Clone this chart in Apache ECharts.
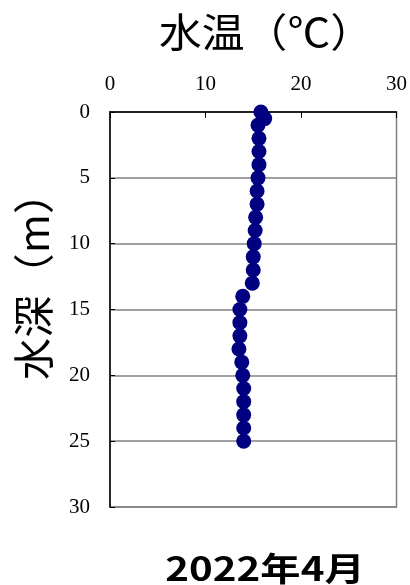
<!DOCTYPE html>
<html>
<head>
<meta charset="utf-8">
<script src="https://cdn.jsdelivr.net/npm/echarts@6/dist/echarts.min.js"></script>
<style>
  html, body { margin: 0; padding: 0; background: #fff; }
  #chart { width: 410px; height: 585px; }
</style>
</head>
<body>
<div id="chart"></div>
<script>
// Water temperature profile (depth vs temperature)
const depths = [0, 0.5, 1, 2, 3, 4, 5, 6, 7, 8, 9, 10, 11, 12, 13, 14, 15, 16, 17, 18, 19, 20, 21, 22, 23, 24, 25];
const temps = [15.8, 16.2, 15.5, 15.6, 15.6, 15.6, 15.5, 15.4, 15.4, 15.25, 15.2, 15.1, 15.0, 15.0, 14.9, 13.9, 13.6, 13.6, 13.6, 13.5, 13.8, 13.9, 14.0, 14.0, 14.0, 14.0, 14.0];
const tempTicks = [0, 10, 20, 30];
const depthTicks = [0, 5, 10, 15, 20, 25, 30];
const xTitle = '水温（℃）';
const yTitle = '水深（m）';
const caption = '2022年4月';

const labelFont = '"Liberation Serif", "DejaVu Serif", serif';
const cjkFont = '"Noto Sans CJK JP", "Noto Sans", sans-serif';

const points = depths.map((d, i) => [temps[i], d]);

const chart = echarts.init(document.getElementById('chart'), null, { renderer: 'canvas' });
chart.setOption({
  animation: false,
  backgroundColor: '#ffffff',
  grid: {
    left: 110, top: 112, right: 13, bottom: 78,
    show: true, borderColor: '#808080', borderWidth: 1.5, backgroundColor: 'transparent'
  },
  graphic: [
    { type: 'text', x: 266, y: 32, scaleX: 1.07,
      style: { text: xTitle, font: 'normal 40px ' + cjkFont, fill: '#000', align: 'center', verticalAlign: 'middle' } },
    { type: 'text', x: 33, y: 276, rotation: Math.PI / 2, scaleX: 1.03,
      style: { text: yTitle, font: 'normal 41px ' + cjkFont, fill: '#000', align: 'center', verticalAlign: 'middle' } },
    { type: 'text', x: 265, y: 568, scaleX: 1.22,
      style: { text: caption, font: 'bold 33px ' + cjkFont, fill: '#000', align: 'center', verticalAlign: 'middle' } }
  ],
  xAxis: {
    type: 'value', position: 'top', min: tempTicks[0], max: tempTicks[tempTicks.length - 1], interval: 10,
    axisLine: { show: true, lineStyle: { color: '#000', width: 1.5 } },
    axisTick: { show: true, inside: true, length: 6, lineStyle: { color: '#000' } },
    axisLabel: { fontFamily: labelFont, fontSize: 21, color: '#000', margin: 17 },
    splitLine: { show: false }
  },
  yAxis: {
    type: 'value', inverse: true, min: depthTicks[0], max: depthTicks[depthTicks.length - 1], interval: 5,
    axisLine: { show: true, lineStyle: { color: '#000', width: 1.5 } },
    axisTick: { show: true, inside: true, length: 5, lineStyle: { color: '#000' } },
    axisLabel: { fontFamily: labelFont, fontSize: 21, color: '#000', margin: 20 },
    splitLine: { show: true, lineStyle: { color: '#808080', width: 1.5 } }
  },
  series: [{
    type: 'scatter',
    data: points,
    symbol: 'circle',
    symbolSize: 15,
    itemStyle: { color: '#000080', opacity: 1 },
    clip: false
  }]
});
</script>
</body>
</html>
